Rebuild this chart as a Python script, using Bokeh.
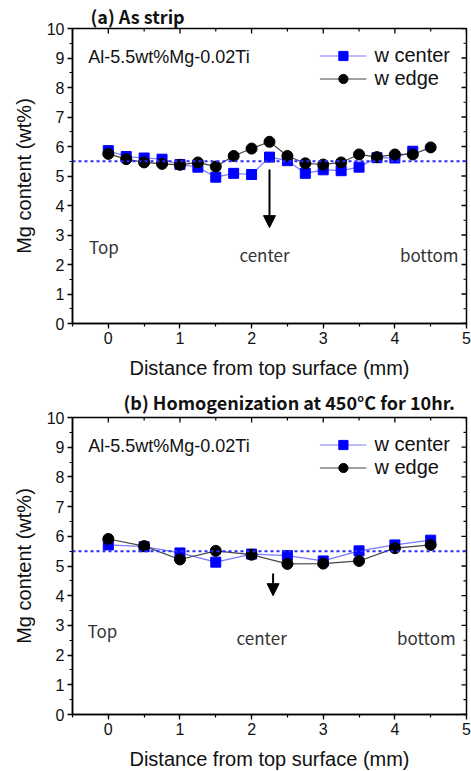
import math
from bokeh.plotting import figure
from bokeh.layouts import column
from bokeh.models import Range1d, Span, Arrow, NormalHead, SingleIntervalTicker
from bokeh.core.properties import value
from bokeh.embed import file_html
from bokeh.resources import INLINE

# ---------------- data ----------------
X_A_CENTER = [0, 0.25, 0.5, 0.75, 1.0, 1.25, 1.5, 1.75, 2.0, 2.25, 2.5, 2.75, 3.0, 3.25, 3.5, 3.75, 4.0, 4.25]
Y_A_CENTER = [5.86, 5.66, 5.61, 5.57, 5.39, 5.30, 4.96, 5.09, 5.05, 5.64, 5.52, 5.09, 5.21, 5.18, 5.30, 5.62, 5.61, 5.84]
X_A_EDGE = [0, 0.25, 0.5, 0.75, 1.0, 1.25, 1.5, 1.75, 2.0, 2.25, 2.5, 2.75, 3.0, 3.25, 3.5, 3.75, 4.0, 4.25, 4.5]
Y_A_EDGE = [5.75, 5.57, 5.46, 5.41, 5.38, 5.46, 5.32, 5.68, 5.93, 6.16, 5.68, 5.43, 5.39, 5.46, 5.73, 5.64, 5.73, 5.73, 5.97]

X_B = [0, 0.5, 1.0, 1.5, 2.0, 2.5, 3.0, 3.5, 4.0, 4.5]
Y_B_CENTER = [5.71, 5.65, 5.44, 5.13, 5.40, 5.35, 5.17, 5.51, 5.71, 5.87]
Y_B_EDGE = [5.91, 5.67, 5.22, 5.51, 5.38, 5.07, 5.08, 5.17, 5.60, 5.71]

REF_LEVEL = 5.5
SERIES_NAMES = ["w center", "w edge"]
ALLOY = "Al-5.5wt%Mg-0.02Ti"
TITLES = ["(a) As strip", "(b) Homogenization  at 450°C for 10hr."]
X_LABEL = "Distance from top surface (mm)"
Y_LABEL = "Mg content (wt%)"

# arrow: x, y_start, y_end
ARROW_A = [2.25, 5.22, 3.25]
ARROW_B = [2.30, 4.75, 4.00]

# position labels
POS_TEXT = ["Top", "center", "bottom"]
POS_A_X = [-0.27, 1.83, 4.07]   # left edges
POS_A_Y = [2.60, 2.34, 2.34]
POS_B_X = [-0.29, 1.79, 4.03]
POS_B_Y = [2.83, 2.60, 2.60]
ALLOY_POS = [-0.28, 9.05]

X_RANGE = (-0.5, 5.0)
Y_RANGE = (0, 10)
X_MAJOR = [0, 1, 2, 3, 4, 5]
X_MINOR = [0.5, 1.5, 2.5, 3.5, 4.5]
Y_MAJOR = [0, 1, 2, 3, 4, 5, 6, 7, 8, 9, 10]
Y_MINOR = [0.5, 1.5, 2.5, 3.5, 4.5, 5.5, 6.5, 7.5, 8.5, 9.5]

SANS = "Liberation Sans"
KR = "Noto Sans CJK KR"


def style_axis(ax):
    ax.ticker = SingleIntervalTicker(interval=1, num_minor_ticks=2)
    ax.axis_line_color = "black"
    ax.axis_line_width = 1.5
    ax.major_tick_line_color = "black"
    ax.minor_tick_line_color = "black"
    ax.major_tick_line_width = 1.3
    ax.minor_tick_line_width = 1.2
    ax.major_tick_in, ax.major_tick_out = 0, 5
    ax.minor_tick_in, ax.minor_tick_out = 0, 3
    ax.major_label_text_font = SANS
    ax.major_label_text_font_size = "16px"
    ax.major_label_text_color = "#111111"
    ax.major_label_standoff = 3
    ax.axis_label_text_font = SANS
    ax.axis_label_text_font_size = "20px"
    ax.axis_label_text_font_style = "normal"
    ax.axis_label_text_color = "#111111"


def make_panel(title, title_offset, title_standoff, top_b, bot_b, frame_h, label_standoff,
               xc, yc, xe, ye, arrow, pos_x, pos_y):
    p = figure(frame_width=394, frame_height=frame_h,
               min_border_left=72, min_border_right=5,
               min_border_top=top_b, min_border_bottom=bot_b,
               x_range=Range1d(*X_RANGE), y_range=Range1d(*Y_RANGE),
               output_backend="svg", toolbar_location=None,
               background_fill_color="white", border_fill_color="white")
    p.xgrid.visible = False
    p.ygrid.visible = False
    p.outline_line_color = "black"
    p.outline_line_width = 1.5
    p.outline_line_alpha = 1.0

    p.title.text = title
    p.title.align = "left"
    p.title.offset = title_offset
    p.title.standoff = title_standoff
    p.title.text_font = KR
    p.title.text_font_style = "bold"
    p.title.text_font_size = "18px"
    p.title.text_color = "#111111"
    p.title.text_line_height = 1.0

    style_axis(p.xaxis[0])
    style_axis(p.yaxis[0])
    p.xaxis[0].axis_label = X_LABEL
    p.xaxis[0].axis_label_standoff = label_standoff
    p.yaxis[0].axis_label = Y_LABEL
    p.yaxis[0].axis_label_standoff = 9

    # inward ticks on the top and right frame edges
    p.scatter(X_MAJOR, [Y_RANGE[1]] * len(X_MAJOR), marker="dash", size=10, angle=math.pi / 2,
              line_color="black", line_width=1.3)
    p.scatter(X_MINOR, [Y_RANGE[1]] * len(X_MINOR), marker="dash", size=6, angle=math.pi / 2,
              line_color="black", line_width=1.2)
    p.scatter([X_RANGE[1]] * len(Y_MAJOR), Y_MAJOR, marker="dash", size=10,
              line_color="black", line_width=1.3)
    p.scatter([X_RANGE[1]] * len(Y_MINOR), Y_MINOR, marker="dash", size=6,
              line_color="black", line_width=1.2)

    p.add_layout(Span(location=REF_LEVEL, dimension="width", line_color="#2a2aff",
                      line_width=2, line_dash="3 3"))

    p.line(xc, yc, line_color="#7a7aff", line_width=1.2, legend_label=SERIES_NAMES[0])
    p.scatter(xc, yc, marker="square", size=10, fill_color="#0000ff", line_color="#0000ff",
              legend_label=SERIES_NAMES[0])
    p.line(xe, ye, line_color="#444444", line_width=1.2, legend_label=SERIES_NAMES[1])
    p.scatter(xe, ye, marker="circle", size=11, fill_color="black", line_color="black",
              legend_label=SERIES_NAMES[1])

    p.add_layout(Arrow(end=NormalHead(size=12, fill_color="black", line_color="black"),
                       x_start=arrow[0], y_start=arrow[1], x_end=arrow[0], y_end=arrow[2],
                       line_color="black", line_width=2))

    p.text(x=[ALLOY_POS[0]], y=[ALLOY_POS[1]], text=[ALLOY], text_font=value(SANS),
           text_font_size="18px", text_color="#111111", text_baseline="middle", text_align="left")

    p.text(x=pos_x, y=pos_y, text=POS_TEXT, text_font=value(KR), text_font_size="17px",
           text_color="#333333", text_baseline="middle", text_align="left")

    leg = p.legend[0]
    leg.location = "top_right"
    leg.margin = 10
    leg.padding = 6
    leg.spacing = 0
    leg.glyph_width = 47
    leg.glyph_height = 23
    leg.label_height = 23
    leg.label_standoff = 8
    leg.label_text_font = SANS
    leg.label_text_font_size = "20px"
    leg.label_text_color = "#111111"
    leg.border_line_alpha = 0
    leg.background_fill_alpha = 0
    return p


pa = make_panel(TITLES[0], 18, 0, 19, 60, 295, 10,
                X_A_CENTER, Y_A_CENTER, X_A_EDGE, Y_A_EDGE, ARROW_A, POS_A_X, POS_A_Y)
pb = make_panel(TITLES[1], 51, 6, 26, 52, 297, 10,
                X_B, Y_B_CENTER, X_B, Y_B_EDGE, ARROW_B, POS_B_X, POS_B_Y)

layout = column(pa, pb, spacing=0)
open("out.html", "w").write(file_html(layout, INLINE))
